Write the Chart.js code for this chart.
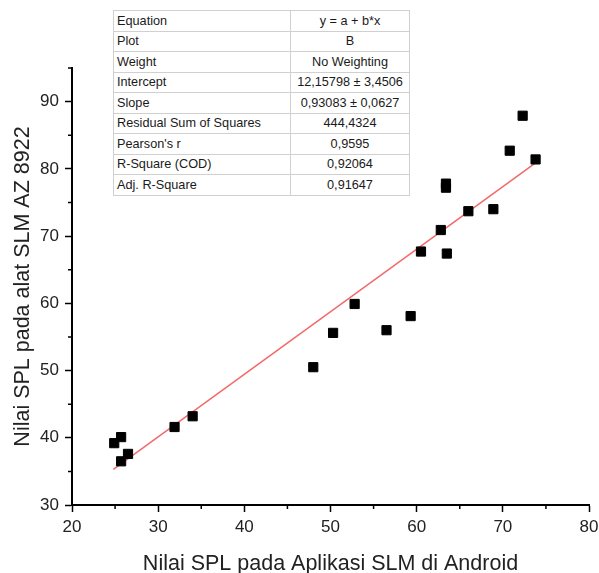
<!DOCTYPE html>
<html>
<head>
<meta charset="utf-8">
<script src="https://cdn.jsdelivr.net/npm/chart.js@4.4.0/dist/chart.umd.min.js"></script>
<style>
  body { margin: 0; background: #fff; }
  #wrap { position: relative; width: 599px; height: 573px; }
  #fitTable {
    position: absolute; left: 113px; top: 10px; width: 297px;
    border-collapse: collapse; border: 1.5px solid #8a8a8a;
    font-family: "Liberation Sans", Arial, sans-serif; font-size: 12.7px; color: #1a1a1a;
    background: #fff;
  }
  #fitTable td { border: 1px solid #d0d0d0; height: 19.5px; padding: 0 3px; line-height: 12px; white-space: nowrap; }
  #fitTable td:first-child { width: 170px; }
  #fitTable td:last-child { text-align: center; }
</style>
</head>
<body>
<div id="wrap">
  <canvas id="chart" width="599" height="573"></canvas>
  <table id="fitTable"></table>
</div>
<script>
// data
const xAndroid = [24.9, 25.7, 25.7, 26.5, 31.9, 34.0, 48.0, 50.3, 52.8, 56.5, 59.3, 60.5, 62.8, 63.5, 63.4, 63.4, 66.0, 68.9, 70.8, 72.3, 73.8];
const ySlm = [39.2, 40.1, 36.5, 37.6, 41.6, 43.2, 50.5, 55.6, 59.9, 56.0, 58.1, 67.7, 70.9, 67.4, 77.8, 77.2, 73.7, 74.0, 82.7, 87.9, 81.4];
const fitX = [24.8, 73.8];
const fitY = [35.3, 80.9];

const tableLabels = ['Equation', 'Plot', 'Weight', 'Intercept', 'Slope', 'Residual Sum of Squares', "Pearson's r", 'R-Square (COD)', 'Adj. R-Square'];
const tableValues = ['y = a + b*x', 'B', 'No Weighting', '12,15798 ± 3,4506', '0,93083 ± 0,0627', '444,4324', '0,9595', '0,92064', '0,91647'];

const table = document.getElementById('fitTable');
for (let i = 0; i < tableLabels.length; i++) {
    const row = table.insertRow();
    row.insertCell().textContent = tableLabels[i];
    row.insertCell().textContent = tableValues[i];
}

const points = xAndroid.map((x, i) => ({ x: x, y: ySlm[i] }));
const fitLine = fitX.map((x, i) => ({ x: x, y: fitY[i] }));

// short minor ticks between labelled ones
const minorTicks = {
    id: 'minorTicks',
    afterDraw(chart) {
        const ctx = chart.ctx;
        const xs = chart.scales.x, ys = chart.scales.y;
        ctx.save();
        ctx.strokeStyle = '#000';
        ctx.lineWidth = 1.5;
        ctx.beginPath();
        for (let v = 25; v < 80; v += 10) {
            const px = xs.getPixelForValue(v);
            ctx.moveTo(px, xs.top);
            ctx.lineTo(px, xs.top + 4);
        }
        for (let v = 35; v <= 95; v += 10) {
            const py = ys.getPixelForValue(v);
            ctx.moveTo(ys.right, py);
            ctx.lineTo(ys.right - 4, py);
        }
        ctx.stroke();
        ctx.restore();
    }
};

const font = 'Liberation Sans';
new Chart(document.getElementById('chart'), {
    type: 'scatter',
    data: {
        datasets: [
            {
                label: 'B',
                data: points,
                pointStyle: 'rect',
                pointRadius: 6.5,
                pointBorderWidth: 1,
                backgroundColor: '#000',
                borderColor: '#000',
                order: 1
            },
            {
                label: 'Linear Fit',
                data: fitLine,
                showLine: true,
                pointRadius: 0,
                borderColor: '#f26a6a',
                borderWidth: 1.5,
                order: 2
            }
        ]
    },
    options: {
        responsive: false,
        animation: false,
        layout: { padding: { top: 68, right: 10, left: 0, bottom: 0 } },
        plugins: { legend: { display: false }, tooltip: { enabled: false } },
        scales: {
            x: {
                min: 20, max: 80,
                border: { color: '#000', width: 2 },
                grid: { drawOnChartArea: false, tickLength: 7, tickColor: '#000', tickWidth: 1.5 },
                ticks: { stepSize: 10, color: '#222', padding: 5, font: { family: font, size: 17 } },
                title: { display: true, text: 'Nilai SPL pada Aplikasi SLM di Android', color: '#222', font: { family: font, size: 21.5, lineHeight: 0.82 }, padding: 0 },
                afterFit(scale) { scale.height = 68; scale.paddingLeft = 0; scale.paddingRight = 0; }
            },
            y: {
                min: 30, max: 95,
                border: { color: '#000', width: 2 },
                grid: { drawOnChartArea: false, tickLength: 7, tickColor: '#000', tickWidth: 1.5 },
                ticks: { stepSize: 10, color: '#222', padding: 6, font: { family: font, size: 17 } },
                afterBuildTicks(scale) {
                    scale.ticks = scale.ticks.filter(t => t.value % 10 === 0);
                },
                title: { display: true, text: 'Nilai SPL pada alat SLM AZ 8922', color: '#222', font: { family: font, size: 21.5, lineHeight: 1 }, padding: 12 },
                afterFit(scale) { scale.width = 72; scale.paddingTop = 0; scale.paddingBottom = 0; }
            }
        }
    },
    plugins: [minorTicks]
});
</script>
</body>
</html>
